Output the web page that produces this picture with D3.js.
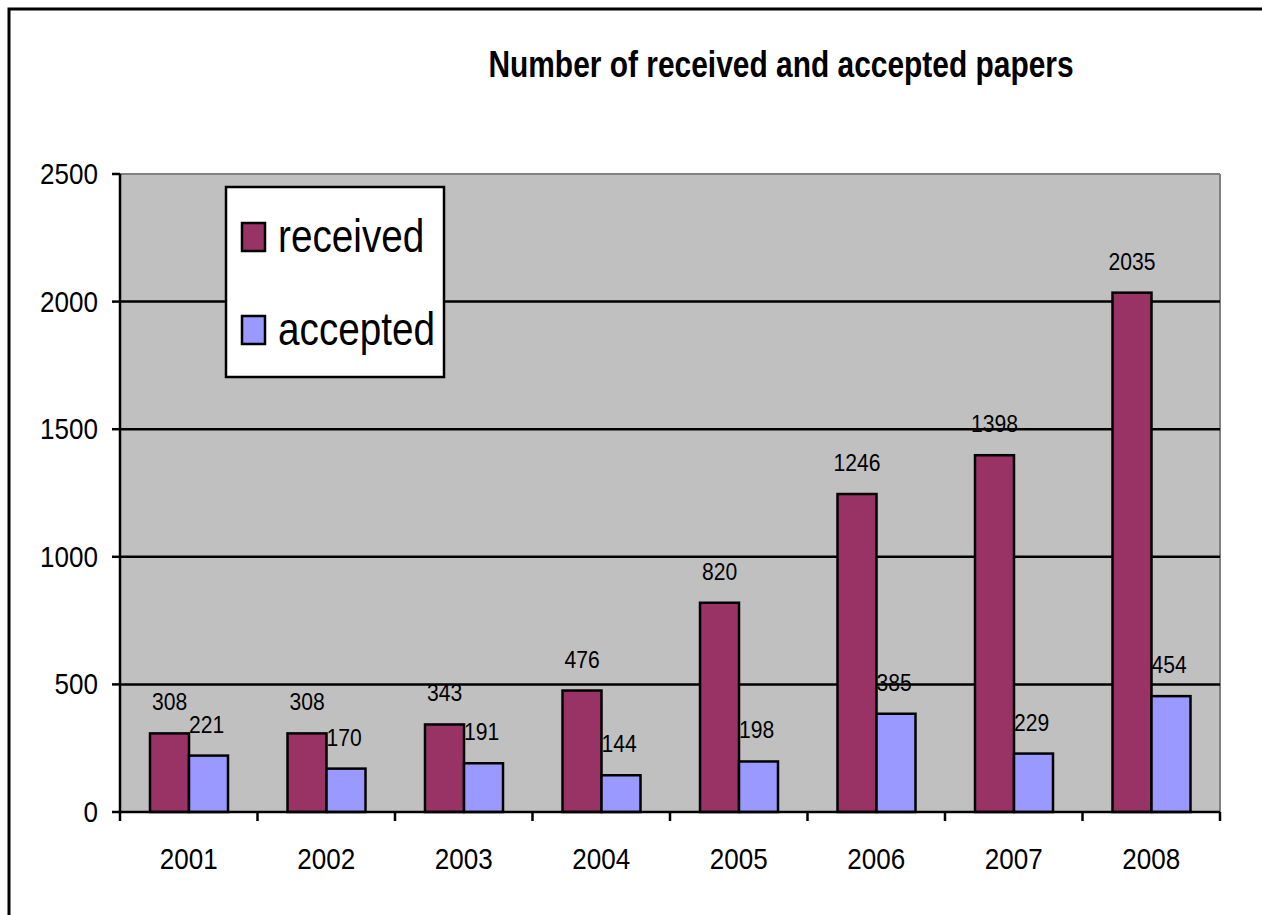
<!DOCTYPE html>
<html>
<head>
<meta charset="utf-8">
<script src="https://cdn.jsdelivr.net/npm/d3@7"></script>
<style>
body { margin: 0; background: #ffffff; }
text { font-family: "Liberation Sans", Arial, sans-serif; fill: #000; }
</style>
</head>
<body>
<svg id="chart" width="1262" height="915"></svg>
<script>

var years = ["2001", "2002", "2003", "2004", "2005", "2006", "2007", "2008"];
var received = [308, 308, 343, 476, 820, 1246, 1398, 2035];
var accepted = [221, 170, 191, 144, 198, 385, 229, 454];
var series_names = ["received", "accepted"];
var series_colors = ["#993366", "#9999ff"];
var yticks = [0, 500, 1000, 1500, 2000, 2500];
var title = "Number of received and accepted papers";

var svg = d3.select("#chart");

var left = 120, right = 1220, top_y = 174, bottom_y = 812;

var x = d3.scaleBand().domain(years).range([left, right]).padding(0);
var step = x.step();
var xs = d3.scaleBand().domain(series_names).range([step*30/137.5, step*108/137.5]).padding(0);
var y = d3.scaleLinear().domain([0, 2500]).range([bottom_y, top_y]);

// texte avec compression horizontale (police du graphique d'origine plus étroite)
function label(px, py, txt, size, sx, anchor, weight) {
	var g = svg.append("g").attr("transform", "translate(" + px + "," + py + ") scale(" + sx + ",1.05)");
	g.append("text")
		.attr("x", 0).attr("y", 0)
		.attr("text-anchor", anchor)
		.style("font-size", size + "px")
		.style("font-weight", weight || "normal")
		.text(txt);
}

// cadre extérieur
svg.append("rect")
	.attr("x", 9).attr("y", 9).attr("width", 1400).attr("height", 1100)
	.style("fill", "none").style("stroke", "#000").style("stroke-width", 3);

// titre
label(781, 77, title, 35, 0.855, "middle", "bold");

// zone de tracé
svg.append("rect")
	.attr("x", left).attr("y", top_y).attr("width", right-left).attr("height", bottom_y-top_y)
	.style("fill", "#c0c0c0");
svg.append("line")
	.attr("x1", left).attr("y1", top_y).attr("x2", right).attr("y2", top_y)
	.style("stroke", "#808080").style("stroke-width", 2);
svg.append("line")
	.attr("x1", right).attr("y1", top_y).attr("x2", right).attr("y2", bottom_y)
	.style("stroke", "#808080").style("stroke-width", 2);

// grille
for (const t of yticks) {
	if (t == 0 || t == 2500) continue;
	svg.append("line")
		.attr("x1", left).attr("y1", y(t)).attr("x2", right).attr("y2", y(t))
		.style("stroke", "#000").style("stroke-width", 2.5);
}

// barres
var allvalues = [received, accepted];
for (var s = 0; s < 2; s++) {
	var vals = allvalues[s];
	for (var i = 0; i < years.length; i++) {
		var bx = x(years[i]) + xs(series_names[s]);
		svg.append("rect")
			.attr("x", bx).attr("y", y(vals[i]))
			.attr("width", xs.bandwidth()).attr("height", y(0) - y(vals[i]))
			.style("fill", series_colors[s]).style("stroke", "#000").style("stroke-width", 2.5);
		label(bx + xs.bandwidth()/2 - (s == 1 ? 2 : 0), y(vals[i]) - 23, vals[i], 22, 0.96, "middle");
	}
}

// axes
svg.append("line")
	.attr("x1", left).attr("y1", top_y).attr("x2", left).attr("y2", bottom_y)
	.style("stroke", "#000").style("stroke-width", 2.5);
svg.append("line")
	.attr("x1", left).attr("y1", bottom_y).attr("x2", right).attr("y2", bottom_y)
	.style("stroke", "#000").style("stroke-width", 2.5);

for (const t of yticks) {
	svg.append("line")
		.attr("x1", left-8).attr("y1", y(t)).attr("x2", left).attr("y2", y(t))
		.style("stroke", "#000").style("stroke-width", 2.5);
	label(98, y(t) + 10, t, 28, 0.93, "end");
}

for (var i = 0; i <= years.length; i++) {
	var tx = left + i*step;
	svg.append("line")
		.attr("x1", tx).attr("y1", bottom_y).attr("x2", tx).attr("y2", bottom_y+9)
		.style("stroke", "#000").style("stroke-width", 2.5);
}
for (const yr of years) {
	label(x(yr) + step/2, 869, yr, 28, 0.93, "middle");
}

// légende
svg.append("rect")
	.attr("x", 226).attr("y", 187).attr("width", 218).attr("height", 190)
	.style("fill", "#fff").style("stroke", "#000").style("stroke-width", 2.5);
var leg_y = [223, 316];
for (var s = 0; s < 2; s++) {
	svg.append("rect")
		.attr("x", 242).attr("y", leg_y[s]).attr("width", 23).attr("height", 28)
		.style("fill", series_colors[s]).style("stroke", "#000").style("stroke-width", 2.5);
	label(278, leg_y[s] + 29, series_names[s], 44, 0.88, "start");
}

</script>
</body>
</html>
